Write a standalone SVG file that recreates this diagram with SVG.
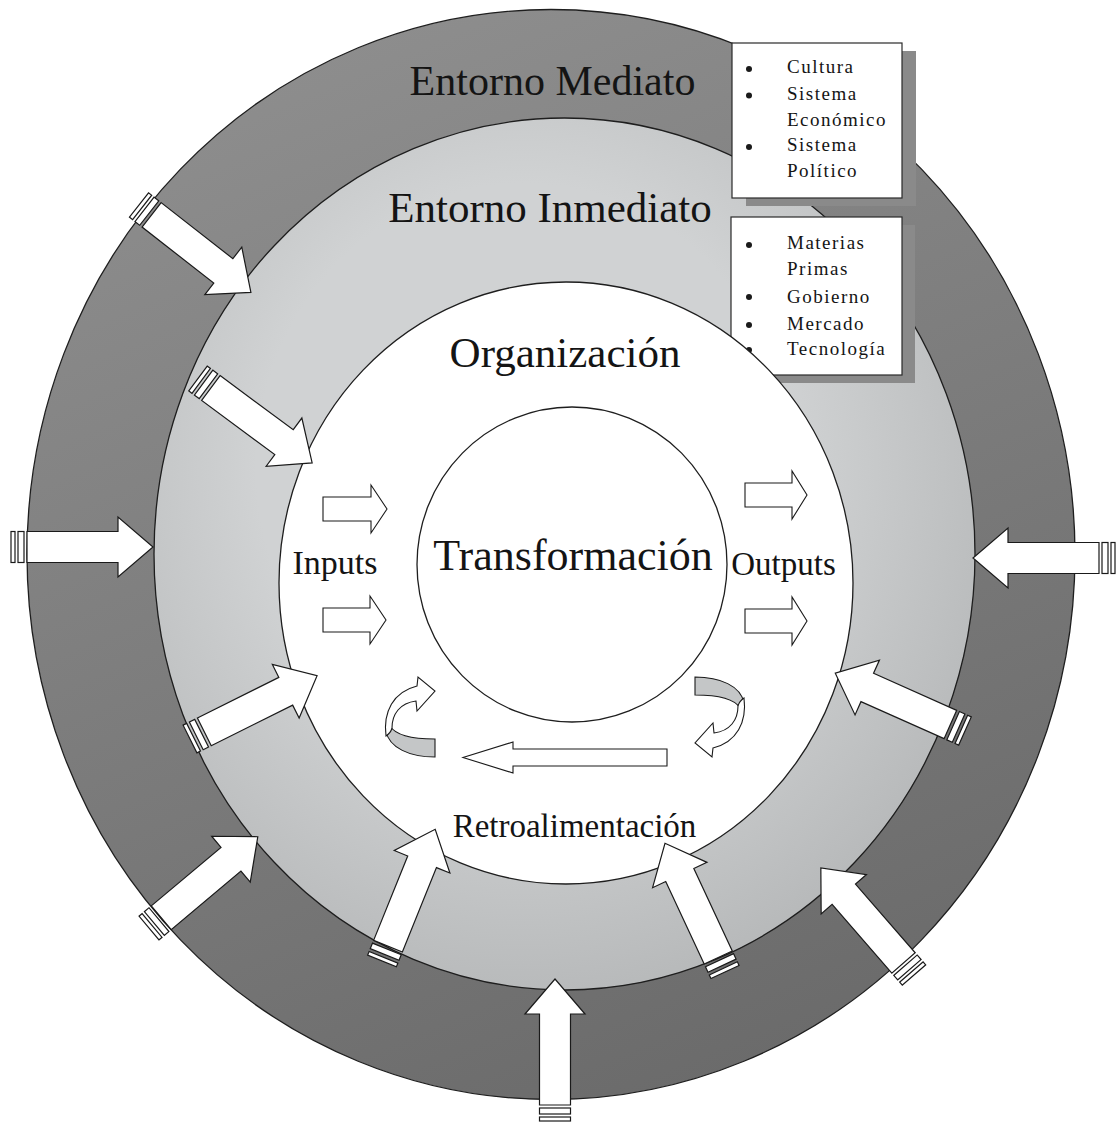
<svg xmlns="http://www.w3.org/2000/svg" width="1116" height="1128" viewBox="0 0 1116 1128">
  <style>
    .ring { stroke: #1e1e1e; stroke-width: 1.3; }
    .t { font-family: "Liberation Serif", "Times New Roman", serif; fill: #141414; }
    .title { font-size: 42px; }
    .big { font-size: 43px; }
    .mid { font-size: 33px; }
    .list { font-size: 19px; letter-spacing: 1.5px; }
    .box { fill: #ffffff; stroke: #2a2a2a; stroke-width: 1.2; }
    .shadow { fill: #8a8a8a; }
    .dot { fill: #1a1a1a; }
    .flow { fill: #ffffff; stroke: #1a1a1a; stroke-width: 1.1; }
  </style>
  <defs>
    <linearGradient id="gOuter" x1="0.3" y1="0" x2="0.7" y2="1">
      <stop offset="0" stop-color="#8e8e8e"/>
      <stop offset="1" stop-color="#6a6a6a"/>
    </linearGradient>
    <radialGradient id="gMid" cx="0.45" cy="0.4" r="0.65">
      <stop offset="0.5" stop-color="#d0d2d3"/>
      <stop offset="1" stop-color="#b4b6b7"/>
    </radialGradient>
    <!-- striped block arrow, tail at origin, pointing along +x -->
    <g id="bigArrow" fill="#ffffff" stroke="#1a1a1a" stroke-width="1.2">
      <rect x="0" y="-15.5" width="4" height="31"/>
      <rect x="7" y="-15.5" width="6" height="31"/>
      <path d="M16,-15.5 H107 V-30 L142,0 L107,30 V15.5 H16 Z"/>
    </g>
    <!-- small twisted ribbon arrow -->
    <g id="curl" stroke="#1a1a1a" stroke-width="1.1">
      <path fill="#c4c6c7" d="M386,731 C389,748 410,757 435,757 L435,739 C412,739 396,736 390,726 Z"/>
      <path fill="#ffffff" d="M386,736 C383,712 393,692 417,686 L418,677 L435,691 L417,711 L416,701 C400,703 392,714 392,728 C391,732 389,734 386,736 Z"/>
    </g>
  </defs>

  <rect width="1116" height="1128" fill="#ffffff"/>

  <!-- environment rings -->
  <g id="entorno-mediato">
    <ellipse class="ring" cx="551" cy="554.5" rx="524" ry="545" fill="url(#gOuter)"/>
    <text class="t title" x="552.5" y="95" text-anchor="middle">Entorno Mediato</text>
  </g>
  <g id="entorno-inmediato">
    <ellipse class="ring" cx="564.5" cy="554" rx="410.5" ry="436" fill="url(#gMid)"/>
    <text class="t big" x="550" y="222" text-anchor="middle">Entorno Inmediato</text>
  </g>

  <!-- factor lists -->
  <g id="box-mediato">
    <rect class="shadow" x="746" y="51" width="170" height="155"/>
    <rect class="box" x="732" y="43" width="170" height="155"/>
    <circle class="dot" cx="749" cy="69" r="3"/>
    <circle class="dot" cx="749" cy="95.5" r="3"/>
    <circle class="dot" cx="749" cy="147" r="3"/>
    <text class="t list" x="787" y="73">Cultura</text>
    <text class="t list" x="787" y="100">Sistema</text>
    <text class="t list" x="787" y="126">Económico</text>
    <text class="t list" x="787" y="151">Sistema</text>
    <text class="t list" x="787" y="177">Político</text>
  </g>
  <g id="box-inmediato">
    <rect class="shadow" x="745" y="225" width="170" height="158"/>
    <rect class="box" x="731" y="217" width="171" height="158"/>
    <circle class="dot" cx="749" cy="245" r="3"/>
    <circle class="dot" cx="749" cy="297" r="3"/>
    <circle class="dot" cx="749" cy="325" r="3"/>
    <circle class="dot" cx="749" cy="350" r="3"/>
    <text class="t list" x="787" y="249">Materias</text>
    <text class="t list" x="787" y="275">Primas</text>
    <text class="t list" x="787" y="303">Gobierno</text>
    <text class="t list" x="787" y="330">Mercado</text>
    <text class="t list" x="787" y="355">Tecnología</text>
  </g>

  <!-- organisation -->
  <g id="organizacion">
    <ellipse class="ring" cx="566" cy="583" rx="287" ry="301" fill="#ffffff"/>
    <text class="t big" x="565" y="367" text-anchor="middle">Organización</text>
  </g>
  <g id="transformacion">
    <ellipse class="ring" cx="572" cy="564.5" rx="155" ry="157.5" fill="#ffffff"/>
    <text class="t" x="573" y="570" font-size="44" text-anchor="middle">Transformación</text>
  </g>
  <g id="inputs">
    <text class="t" x="335" y="574" font-size="34" text-anchor="middle">Inputs</text>
  </g>
  <g id="outputs">
    <text class="t mid" x="783.5" y="575" text-anchor="middle">Outputs</text>
  </g>
  <g id="retroalimentacion">
    <text class="t mid" x="574.5" y="837" text-anchor="middle">Retroalimentación</text>
  </g>

  <!-- connectors -->
  <g id="arrows">
    <!-- inputs / outputs -->
    <path class="flow" d="M323,497 H371 V485 L387,509 L371,533 V521 H323 Z"/>
    <path class="flow" d="M323,608 H370 V596 L386,620 L370,644 V632 H323 Z"/>
    <path class="flow" d="M745,483 H792 V471 L807,495 L792,519 V507 H745 Z"/>
    <path class="flow" d="M745,609 H792 V597 L807,621 L792,645 V633 H745 Z"/>
    <!-- feedback -->
    <path class="flow" d="M667,749 H513 V742 L463,757.5 L513,773 V766 H667 Z"/>
    <use href="#curl"/>
    <use href="#curl" transform="translate(1130,1434) rotate(180)"/>
    <!-- environment pressures -->
    <use href="#bigArrow" transform="translate(139,205) rotate(38)"/>
    <use href="#bigArrow" transform="translate(198,378.5) rotate(36.5)"/>
    <use href="#bigArrow" transform="translate(11,547) rotate(0)"/>
    <use href="#bigArrow" transform="translate(190,739) rotate(-26.5)"/>
    <use href="#bigArrow" transform="translate(149,928) rotate(-40)"/>
    <use href="#bigArrow" transform="translate(382,961) rotate(-68)"/>
    <use href="#bigArrow" transform="translate(555,1121) rotate(-90)"/>
    <use href="#bigArrow" transform="translate(725,972) rotate(-115)"/>
    <use href="#bigArrow" transform="translate(914,975) rotate(-131)"/>
    <use href="#bigArrow" transform="translate(965,731) rotate(-156)"/>
    <use href="#bigArrow" transform="translate(1115,558) rotate(180)"/>
  </g>
</svg>
